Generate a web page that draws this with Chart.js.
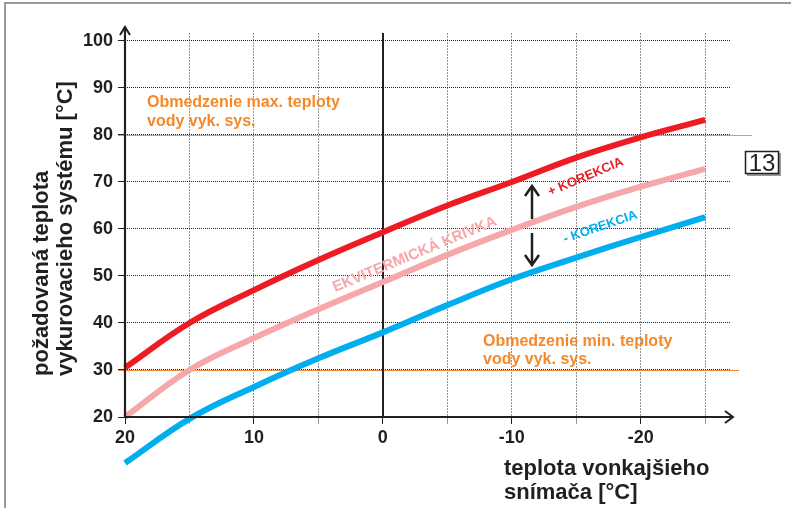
<!DOCTYPE html>
<html>
<head>
<meta charset="utf-8">
<script src="https://cdn.jsdelivr.net/npm/chart.js@4.4.1/dist/chart.umd.min.js"></script>
<style>
  html, body { margin: 0; padding: 0; background: #fff; }
  #wrap { width: 791px; height: 508px; }
</style>
</head>
<body>
<div id="wrap"><canvas id="chart" width="791" height="508"></canvas></div>
<script>
// outside temperature (°C) and required heating water temperature (°C)
const outsideTemps = [20, 15, 10, 5, 0, -5, -10, -15, -20, -25];
const plusCurve    = [30.5, 40, 47, 53.4, 59.3, 65, 70, 75.2, 79.5, 83.2];
const baseCurve    = [20, 30, 36.8, 42.9, 48.7, 54.5, 59.8, 64.7, 69, 72.8];
const minusCurve   = [10.2, 19.6, 26.4, 32.5, 38, 43.8, 49.3, 53.9, 58.3, 62.5];

const xTickValues = [20, 15, 10, 5, 0, -5, -10, -15, -20, -25];
const xTickLabels = ['20', '', '10', '', '0', '', '-10', '', '-20', ''];
const yTickValues = [20, 30, 40, 50, 60, 70, 80, 90, 100];

const maxLimit = 80;
const minLimit = 30;

const INK = '#231f20';
const ORANGE = '#f5892a';
const RED = '#ed1c24';
const PINK = '#f6a7aa';
const BLUE = '#00aeef';
const FONT = '"Liberation Sans", Arial, sans-serif';

function toPoints(values) {
  return outsideTemps.map((t, i) => ({ x: t, y: values[i] }));
}

function rotatedText(ctx, text, x, y, angleDeg, color, size) {
  ctx.save();
  ctx.translate(x, y);
  ctx.rotate(angleDeg * Math.PI / 180);
  ctx.fillStyle = color;
  ctx.font = 'bold ' + size + 'px ' + FONT;
  ctx.textAlign = 'left';
  ctx.textBaseline = 'alphabetic';
  ctx.fillText(text, 0, 0);
  ctx.restore();
}

function line(ctx, pts, color, width) {
  ctx.save();
  ctx.strokeStyle = color;
  ctx.lineWidth = width;
  ctx.beginPath();
  ctx.moveTo(pts[0][0], pts[0][1]);
  for (let i = 1; i < pts.length; i++) ctx.lineTo(pts[i][0], pts[i][1]);
  ctx.stroke();
  ctx.restore();
}

const decor = {
  id: 'decor',
  beforeDatasetsDraw(chart) {
    const { ctx, scales: { x, y }, chartArea: a } = chart;
    // limit lines for max / min water temperature
    const y80 = Math.round(y.getPixelForValue(maxLimit)) + 0.5;
    const y30 = Math.round(y.getPixelForValue(minLimit)) + 0.5;
    line(ctx, [[a.left - 7, y80], [a.right + 21, y80]], '#e0956a', 1);
    line(ctx, [[a.left - 7, y30], [a.right + 8, y30]], '#ee8a3a', 1);
    // zero outside temperature
    const x0 = Math.round(x.getPixelForValue(0));
    line(ctx, [[x0, a.top], [x0, a.bottom]], INK, 2);
  },
  afterDraw(chart) {
    const { ctx, scales: { y }, chartArea: a } = chart;
    const left = a.left;
    const base = y.getPixelForValue(20);

    // axes with arrow heads
    line(ctx, [[left, base], [left, a.top - 6]], INK, 2.2);
    line(ctx, [[left - 5, a.top + 2], [left, a.top - 6], [left + 5, a.top + 2]], INK, 2);
    line(ctx, [[left, base], [a.right + 2, base]], INK, 2.2);
    line(ctx, [[a.right - 6, base - 6], [a.right + 2, base], [a.right - 6, base + 6]], INK, 2);

    // axis titles
    ctx.save();
    ctx.fillStyle = INK;
    ctx.font = 'bold 22px ' + FONT;
    ctx.textAlign = 'left';
    ctx.textBaseline = 'alphabetic';
    ctx.translate(48, 376);
    ctx.rotate(-Math.PI / 2);
    ctx.fillText('požadovaná teplota', 0, 0);
    ctx.fillText('vykurovacieho systému [°C]', 0, 24);
    ctx.restore();

    ctx.save();
    ctx.fillStyle = INK;
    ctx.font = 'bold 22px ' + FONT;
    ctx.textAlign = 'left';
    ctx.fillText('teplota vonkajšieho', 504, 475);
    ctx.fillText('snímača [°C]', 504, 499);
    ctx.restore();

    // limit annotations
    ctx.save();
    ctx.fillStyle = ORANGE;
    ctx.font = 'bold 16px ' + FONT;
    ctx.fillText('Obmedzenie max. teploty', 147, 107);
    ctx.fillText('vody vyk. sys.', 147, 126);
    ctx.fillText('Obmedzenie min. teploty', 483, 346);
    ctx.fillText('vody vyk. sys.', 483, 364);
    ctx.restore();

    // curve labels
    rotatedText(ctx, 'EKVITERMICKÁ KRIVKA', 335, 292, -22.5, PINK, 15);
    rotatedText(ctx, '+ KOREKCIA', 550, 196, -23, RED, 13);
    rotatedText(ctx, '- KOREKCIA', 565, 243, -19, BLUE, 13);

    // correction arrows
    const ax = 532;
    line(ctx, [[ax, 219], [ax, 186]], INK, 2.5);
    line(ctx, [[ax - 7, 196], [ax, 186], [ax + 7, 196]], INK, 2.5);
    line(ctx, [[ax, 233], [ax, 265]], INK, 2.5);
    line(ctx, [[ax - 7, 255], [ax, 265], [ax + 7, 255]], INK, 2.5);

    // page number box
    ctx.save();
    ctx.fillStyle = '#9a9a9a';
    ctx.fillRect(747, 153, 34, 23);
    ctx.fillStyle = '#fff';
    ctx.fillRect(745, 151, 34, 23);
    ctx.strokeStyle = INK;
    ctx.lineWidth = 1.5;
    ctx.strokeRect(745.5, 151.5, 33, 22);
    ctx.fillStyle = INK;
    ctx.font = '24px ' + FONT;
    ctx.textAlign = 'center';
    ctx.textBaseline = 'middle';
    ctx.fillText('13', 762, 164);
    ctx.restore();

    // frame
    line(ctx, [[5, 508], [5, 3], [791, 3]], '#9a9a9a', 2);
  }
};

new Chart(document.getElementById('chart'), {
  type: 'line',
  data: {
    datasets: [
      { data: toPoints(plusCurve), borderColor: RED },
      { data: toPoints(baseCurve), borderColor: PINK },
      { data: toPoints(minusCurve), borderColor: BLUE }
    ]
  },
  options: {
    responsive: false,
    animation: false,
    events: [],
    layout: { padding: { left: 0, top: 33, right: 60, bottom: 0 } },
    plugins: { legend: { display: false }, tooltip: { enabled: false } },
    elements: {
      point: { radius: 0 },
      line: { borderWidth: 6, tension: 0.4, borderCapStyle: 'butt', fill: false }
    },
    datasets: { line: { clip: false } },
    scales: {
      x: {
        type: 'linear',
        reverse: true,
        min: -27,
        max: 20,
        afterBuildTicks: s => { s.ticks = xTickValues.map(v => ({ value: v })); },
        afterFit: s => { s.height = 91; },
        grid: {
          color: '#959595',
          lineWidth: 1,
          tickLength: 7,
          tickColor: c => (c.tick && xTickLabels[xTickValues.indexOf(c.tick.value)] ? INK : '#959595')
        },
        border: { display: false, dash: [2, 1] },
        ticks: {
          autoSkip: false,
          maxRotation: 0,
          padding: 3,
          color: INK,
          font: { family: FONT, size: 18, weight: 'bold' },
          callback: v => xTickLabels[xTickValues.indexOf(v)] || ''
        }
      },
      y: {
        min: 20,
        max: 101.7,
        afterBuildTicks: s => { s.ticks = yTickValues.map(v => ({ value: v })); },
        afterFit: s => { s.width = 125; },
        grid: { color: INK, lineWidth: 1, tickLength: 7 },
        border: { display: false, dash: [1, 1] },
        ticks: {
          padding: 5,
          color: INK,
          font: { family: FONT, size: 18, weight: 'bold' }
        }
      }
    }
  },
  plugins: [decor]
});
</script>
</body>
</html>
